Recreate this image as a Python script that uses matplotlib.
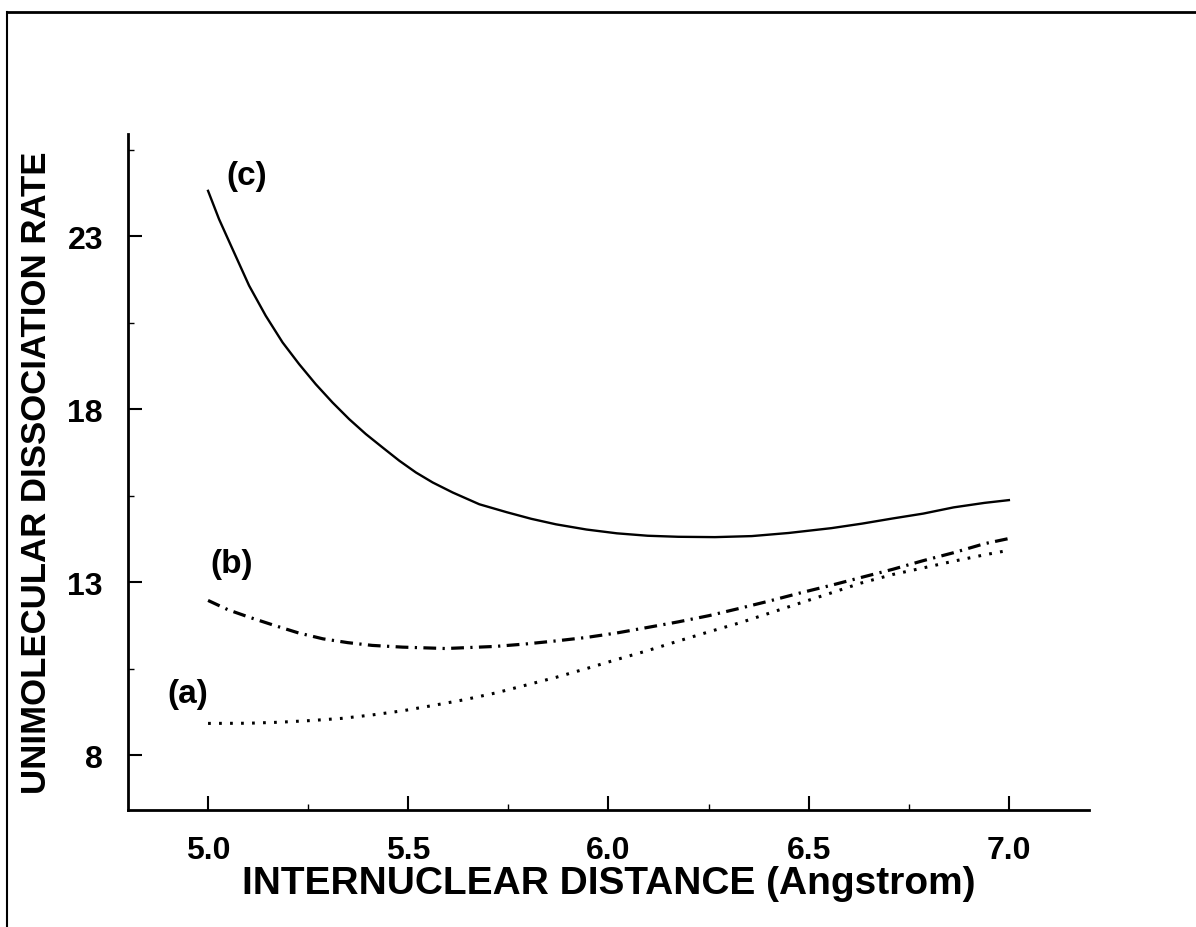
import matplotlib
matplotlib.use('Agg')
import matplotlib.pyplot as plt
from matplotlib.lines import Line2D
from matplotlib.ticker import MultipleLocator, FixedLocator

plt.rcParams['font.family'] = 'Liberation Sans'
plt.rcParams['font.weight'] = 'bold'

# Internuclear distance (Angstrom) and dissociation rates for each case
x_c = [5.0, 5.0275, 5.061, 5.1025, 5.144, 5.186, 5.2275, 5.269, 5.311, 5.3525,
       5.394, 5.436, 5.4775, 5.519, 5.561, 5.611, 5.6775, 5.746, 5.807, 5.869,
       5.945, 6.021, 6.098, 6.174, 6.266, 6.358, 6.450, 6.557, 6.633, 6.710,
       6.786, 6.862, 6.939, 7.0]
rate_c = [24.31, 23.49, 22.63, 21.57, 20.70, 19.93, 19.30, 18.72, 18.19, 17.71,
          17.28, 16.89, 16.51, 16.17, 15.88, 15.59, 15.25, 15.02, 14.83, 14.67,
          14.52, 14.41, 14.34, 14.31, 14.30, 14.33, 14.42, 14.56, 14.69, 14.84,
          14.98, 15.16, 15.29, 15.37]

x_b = [5.0, 5.050, 5.104, 5.165, 5.226, 5.287, 5.349, 5.410, 5.486, 5.593, 5.716,
       5.792, 5.869, 5.945, 6.021, 6.098, 6.174, 6.251, 6.327, 6.404, 6.480,
       6.557, 6.633, 6.710, 6.786, 6.862, 6.939, 7.0]
rate_b = [12.47, 12.20, 11.98, 11.75, 11.53, 11.36, 11.25, 11.17, 11.12, 11.08,
          11.14, 11.21, 11.30, 11.40, 11.53, 11.69, 11.85, 12.03, 12.24, 12.46,
          12.69, 12.91, 13.14, 13.37, 13.62, 13.85, 14.11, 14.26]

x_a = [5.0, 5.10, 5.18, 5.26, 5.333, 5.41, 5.486, 5.56, 5.64, 5.72, 5.79, 5.87,
       5.945, 6.02, 6.098, 6.17, 6.25, 6.33, 6.404, 6.48, 6.557, 6.63, 6.71,
       6.79, 6.86, 6.94, 7.0]
rate_a = [8.915, 8.92, 8.95, 9.00, 9.06, 9.16, 9.28, 9.43, 9.60, 9.80, 10.01,
          10.25, 10.50, 10.76, 11.02, 11.28, 11.56, 11.83, 12.11, 12.40, 12.69,
          12.97, 13.22, 13.42, 13.60, 13.79, 13.92]

x_ticks = [5.0, 5.5, 6.0, 6.5, 7.0]
y_ticks = [8, 13, 18, 23]

fig = plt.figure(figsize=(11.96, 9.28), dpi=100)
ax = fig.add_axes([0.107, 0.126, 0.8035, 0.7284])

ax.plot(x_c, rate_c, color='black', linewidth=1.7, linestyle='-')
ax.plot(x_b, rate_b, color='black', linewidth=2.3, linestyle=(0, (4, 2, 0.7, 2)))
ax.plot(x_a, rate_a, color='black', linewidth=2.2, linestyle=(0, (0.9, 2.7)))

ax.text(5.097, 24.74, '(c)', fontsize=24, fontweight='bold', ha='center', va='center')
ax.text(5.058, 13.53, '(b)', fontsize=24, fontweight='bold', ha='center', va='center')
ax.text(4.95, 9.79, '(a)', fontsize=24, fontweight='bold', ha='center', va='center')

ax.set_xlim(4.8, 7.2)
ax.set_ylim(6.41, 25.95)

ax.xaxis.set_major_locator(FixedLocator(x_ticks))
ax.xaxis.set_minor_locator(MultipleLocator(0.25))
ax.yaxis.set_major_locator(FixedLocator(y_ticks))
ax.yaxis.set_minor_locator(FixedLocator([10.5, 15.5, 20.5, 25.5]))
ax.set_xticklabels(['%.1f' % v for v in x_ticks])
ax.set_yticklabels([str(v) for v in y_ticks])

ax.tick_params(which='major', direction='in', length=10, width=1.5,
               labelsize=23, pad=18)
ax.tick_params(which='minor', direction='in', length=4, width=1)
for lab in ax.get_xticklabels() + ax.get_yticklabels():
    lab.set_fontweight('bold')

for side in ['top', 'right']:
    ax.spines[side].set_visible(False)
for side in ['left', 'bottom']:
    ax.spines[side].set_linewidth(2)

ax.set_xlabel('INTERNUCLEAR DISTANCE (Angstrom)', fontsize=28, fontweight='bold', labelpad=0)
ax.set_ylabel('UNIMOLECULAR DISSOCIATION RATE', fontsize=25, fontweight='bold', labelpad=10)

# frame lines along the top and left of the figure
fig.add_artist(Line2D([7 / 1196, 7 / 1196], [0, 1 - 13 / 928], color='black', linewidth=1.5))
fig.add_artist(Line2D([7 / 1196, 1], [1 - 13 / 928, 1 - 13 / 928], color='black', linewidth=2))

fig.savefig('out.png', dpi=100)
